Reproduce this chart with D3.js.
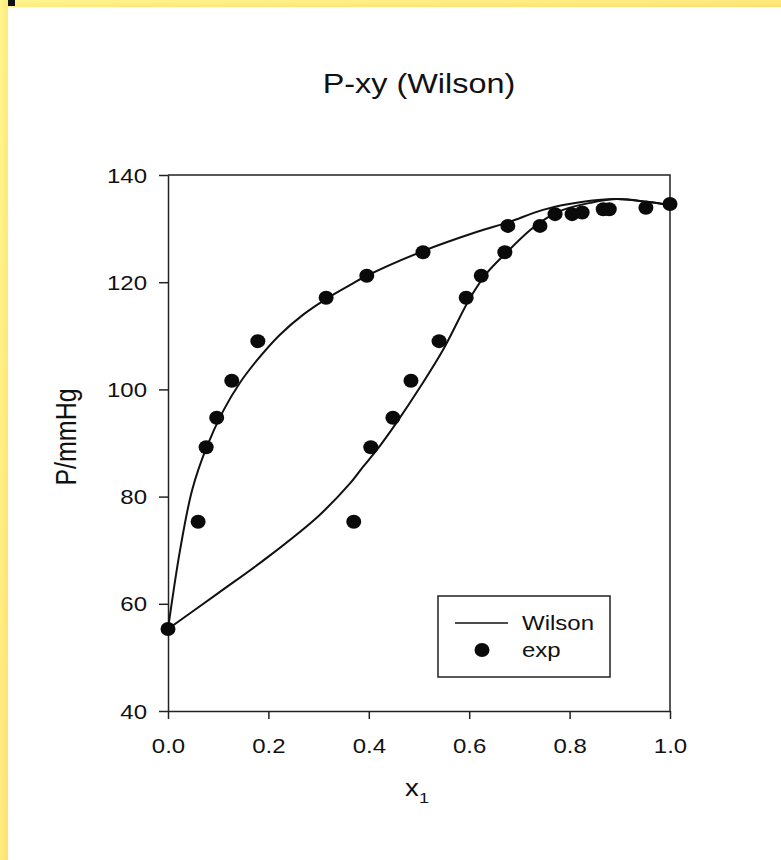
<!DOCTYPE html>
<html>
<head>
<meta charset="utf-8">
<script src="https://cdn.jsdelivr.net/npm/d3@7"></script>
<style>
  body { margin: 0; background: #fff; }
  text { font-family: "Liberation Sans", Arial, Helvetica, sans-serif; fill: #111; }
</style>
</head>
<body>
<svg id="chart" width="781" height="860"></svg>
<script>
// Wilson model curves
const bubbleX = [0, 0.024, 0.048, 0.076, 0.110, 0.143, 0.177, 0.223, 0.270, 0.317, 0.363, 0.396, 0.508, 0.616, 0.679, 0.747, 0.827, 0.894, 0.954, 1.0];
const bubbleP = [55.3, 70.0, 81.2, 89.0, 96.0, 101.2, 105.4, 110.2, 114.0, 117.0, 119.5, 121.2, 125.8, 129.4, 131.2, 133.5, 135.0, 135.5, 135.0, 134.4];
const dewX = [0, 0.100, 0.200, 0.300, 0.363, 0.388, 0.416, 0.456, 0.502, 0.548, 0.602, 0.635, 0.675, 0.721, 0.755, 0.787, 0.841, 0.894, 0.954, 1.0];
const dewP = [55.3, 62.0, 68.8, 76.4, 82.5, 85.5, 88.7, 93.9, 100.4, 107.4, 117.1, 121.7, 125.6, 129.7, 132.0, 133.5, 134.8, 135.5, 135.0, 134.4];

// experimental points
const expX = [0, 0.060, 0.076, 0.097, 0.127, 0.179, 0.315, 0.396, 0.508, 0.677,
              0.370, 0.404, 0.448, 0.484, 0.540, 0.594, 0.624, 0.671, 0.741,
              0.771, 0.805, 0.825, 0.867, 0.879, 0.952, 1.0];
const expP = [55.3, 75.3, 89.2, 94.7, 101.6, 109.0, 117.1, 121.2, 125.6, 130.5,
              75.3, 89.2, 94.7, 101.6, 109.0, 117.1, 121.2, 125.6, 130.5,
              132.7, 132.7, 133.0, 133.6, 133.6, 133.9, 134.6];

const xTicks = [0, 0.2, 0.4, 0.6, 0.8, 1.0];
const yTicks = [40, 60, 80, 100, 120, 140];
const legendItems = ["Wilson", "exp"];

const svg = d3.select("#chart");
const SX = 1.2; // the scanned figure is a bit stretched sideways

// yellow page border
const grad = svg.append("defs").append("linearGradient")
    .attr("id", "yel").attr("x1", "0").attr("y1", "0").attr("x2", "1").attr("y2", "1");
grad.append("stop").attr("offset", "0").attr("stop-color", "#fff68e");
grad.append("stop").attr("offset", "1").attr("stop-color", "#ffe070");
svg.append("rect").attr("x", 0).attr("y", 0).attr("width", 781).attr("height", 7).attr("fill", "url(#yel)");
svg.append("rect").attr("x", 0).attr("y", 0).attr("width", 8).attr("height", 860).attr("fill", "url(#yel)");
svg.append("rect").attr("x", 8).attr("y", 0).attr("width", 7).attr("height", 6).attr("fill", "#111");

const x = d3.scaleLinear().domain([0, 1]).range([168, 670]);
const y = d3.scaleLinear().domain([40, 140]).range([711, 175]);

function stretchText(sel, tx, ty) {
  sel.attr("x", 0).attr("y", 0)
     .attr("transform", `translate(${tx},${ty}) scale(${SX},1)`);
}

// frame
svg.append("path")
    .attr("d", `M${x(0)},${y(140)}H${x(1)}V${y(40)}`)
    .attr("fill", "none").attr("stroke", "#222").attr("stroke-width", 1.5);

// axes
const gx = svg.append("g").attr("transform", `translate(0,${y(40)})`)
    .call(d3.axisBottom(x).tickValues(xTicks).tickFormat(d3.format(".1f")).tickSize(8).tickSizeOuter(0));
const gy = svg.append("g").attr("transform", `translate(${x(0)},0)`)
    .call(d3.axisLeft(y).tickValues(yTicks).tickSize(9).tickSizeOuter(0));
[gx, gy].forEach(g => {
  g.select(".domain").attr("stroke", "#222").attr("stroke-width", 1.5);
  g.selectAll(".tick line").attr("stroke", "#222").attr("stroke-width", 1.5);
  g.selectAll(".tick text").attr("font-size", 20).attr("fill", "#111").attr("dy", null);
});
gx.selectAll(".tick text").each(function() { stretchText(d3.select(this), 0, 42); });
gy.selectAll(".tick text").each(function() { stretchText(d3.select(this), -21, 7); });

// curves
const line = d3.line().curve(d3.curveCatmullRom.alpha(0.5));
[[bubbleX, bubbleP], [dewX, dewP]].forEach(([xs, ps]) => {
  svg.append("path")
      .attr("d", line(xs.map((v, i) => [x(v), y(ps[i])])))
      .attr("fill", "none").attr("stroke", "#111").attr("stroke-width", 2);
});

// experimental points
svg.append("g").selectAll("ellipse")
  .data(expX.map((v, i) => ({x: v, p: expP[i]})))
  .join("ellipse")
    .attr("cx", d => x(d.x)).attr("cy", d => y(d.p))
    .attr("rx", 7.5).attr("ry", 7).attr("fill", "#0a0a0a");

// titles
stretchText(svg.append("text").attr("font-size", 27).attr("text-anchor", "middle").text("P-xy (Wilson)"), 419, 93);
svg.append("text").attr("font-size", 25).attr("text-anchor", "middle")
    .attr("transform", `translate(76,437) rotate(-90) scale(1,${SX})`).text("P/mmHg");
const xl = svg.append("text").attr("font-size", 23).attr("text-anchor", "middle");
xl.append("tspan").text("x");
xl.append("tspan").attr("font-size", 15).attr("dy", 7).text("1");
stretchText(xl, 417, 796);

// legend
const lg = svg.append("g");
lg.append("rect").attr("x", 438).attr("y", 596).attr("width", 172).attr("height", 81)
    .attr("fill", "#fff").attr("stroke", "#222").attr("stroke-width", 1.5);
lg.append("line").attr("x1", 455).attr("x2", 508).attr("y1", 623).attr("y2", 623)
    .attr("stroke", "#111").attr("stroke-width", 1.3);
lg.append("ellipse").attr("cx", 482).attr("cy", 650).attr("rx", 7.5).attr("ry", 7).attr("fill", "#0a0a0a");
legendItems.forEach((t, i) => {
  stretchText(lg.append("text").attr("font-size", 20).text(t), 522, 630 + i * 27);
});
</script>
</body>
</html>
